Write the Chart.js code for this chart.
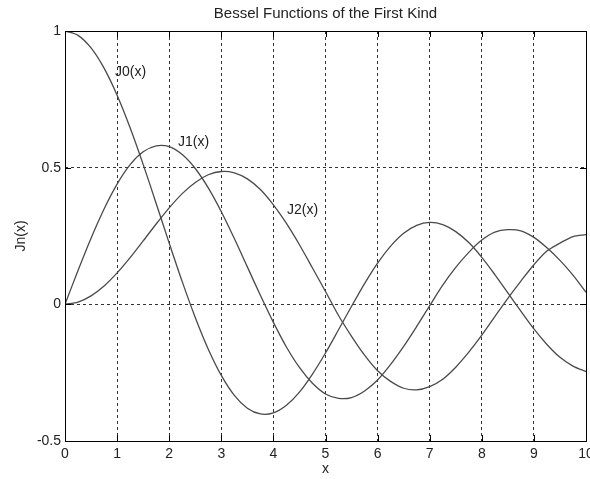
<!DOCTYPE html>
<html>
<head>
<meta charset="utf-8">
<script src="https://cdn.jsdelivr.net/npm/chart.js@4"></script>
<style>
  html, body { margin: 0; padding: 0; background: #fff; }
  #wrap { width: 590px; height: 479px; }
</style>
</head>
<body>
<div id="wrap"><canvas id="besselChart" width="590" height="479"></canvas></div>
<script>
// x samples (step 0.25) and values
const xs = [0, 0.25, 0.5, 0.75, 1, 1.25, 1.5, 1.75, 2, 2.25, 2.5, 2.75, 3, 3.25, 3.5, 3.75,
    4, 4.25, 4.5, 4.75, 5, 5.25, 5.5, 5.75, 6, 6.25, 6.5, 6.75, 7, 7.25, 7.5, 7.75,
    8, 8.25, 8.5, 8.75, 9, 9.25, 9.5, 9.75, 10];

const j0 = [1, 0.984, 0.938, 0.864, 0.765, 0.646, 0.512, 0.369, 0.224, 0.083, -0.048, -0.164,
    -0.260, -0.333, -0.380, -0.401, -0.397, -0.369, -0.321, -0.255, -0.178, -0.093, -0.007, 0.076,
    0.151, 0.213, 0.260, 0.289, 0.300, 0.292, 0.266, 0.226, 0.172, 0.109, 0.042, -0.025,
    -0.090, -0.147, -0.194, -0.226, -0.246];

const j1 = [0, 0.124, 0.242, 0.349, 0.440, 0.511, 0.558, 0.580, 0.577, 0.548, 0.497, 0.426,
    0.339, 0.241, 0.137, 0.033, -0.066, -0.156, -0.231, -0.289, -0.328, -0.344, -0.341, -0.317,
    -0.277, -0.220, -0.154, -0.081, -0.005, 0.070, 0.135, 0.190, 0.235, 0.264, 0.273, 0.269,
    0.245, 0.207, 0.161, 0.107, 0.044];

const j2 = [0, 0.008, 0.031, 0.067, 0.115, 0.171, 0.232, 0.294, 0.353, 0.405, 0.446, 0.474,
    0.486, 0.481, 0.459, 0.420, 0.364, 0.296, 0.218, 0.133, 0.047, -0.041, -0.117, -0.186,
    -0.243, -0.282, -0.307, -0.313, -0.301, -0.274, -0.230, -0.175, -0.113, -0.045, 0.022, 0.085,
    0.145, 0.195, 0.224, 0.248, 0.255];

const seriesNames = ['J0(x)', 'J1(x)', 'J2(x)'];
// where each curve's label sits, in data units (left edge, middle)
const labelX = [0.96, 2.17, 4.26];
const labelY = [0.85, 0.593, 0.344];

const xTicks = [0, 1, 2, 3, 4, 5, 6, 7, 8, 9, 10];
const yTicks = [-0.5, 0, 0.5, 1];

const FONT = 'Liberation Sans, Arial, Helvetica, sans-serif';
const INK = '#222';
const LINE = '#4a4a4a';

function toPoints(ys) {
    return xs.map((x, i) => ({ x: x, y: ys[i] }));
}

// frame, inward tick marks and curve labels, MATLAB style
const framePlugin = {
    id: 'frame',
    afterDatasetsDraw(chart) {
        const c = chart.ctx;
        const a = chart.chartArea;
        const sx = chart.scales.x;
        const sy = chart.scales.y;
        c.save();
        c.strokeStyle = '#000';
        c.lineWidth = 1;
        c.setLineDash([]);
        c.strokeRect(Math.round(a.left) + 0.5, Math.round(a.top) + 0.5,
            Math.round(a.right - a.left), Math.round(a.bottom - a.top));

        c.beginPath();
        xTicks.forEach(v => {
            const px = Math.round(sx.getPixelForValue(v)) + 0.5;
            c.moveTo(px, a.bottom); c.lineTo(px, a.bottom - 6);
            c.moveTo(px, a.top); c.lineTo(px, a.top + 6);
        });
        yTicks.forEach(v => {
            const py = Math.round(sy.getPixelForValue(v)) + 0.5;
            c.moveTo(a.left, py); c.lineTo(a.left + 6, py);
            c.moveTo(a.right, py); c.lineTo(a.right - 6, py);
        });
        c.stroke();

        c.fillStyle = INK;
        c.font = '14px ' + FONT;
        c.textAlign = 'left';
        c.textBaseline = 'middle';
        seriesNames.forEach((name, i) => {
            c.fillText(name, sx.getPixelForValue(labelX[i]), sy.getPixelForValue(labelY[i]));
        });
        c.restore();
    }
};

const makeSet = (label, ys) => ({
    label: label,
    data: toPoints(ys),
    borderColor: LINE,
    borderWidth: 1.3,
    pointRadius: 0,
    tension: 0.3,
    fill: false,
});

const config = {
    type: 'line',
    data: {
        datasets: [
            makeSet(seriesNames[0], j0),
            makeSet(seriesNames[1], j1),
            makeSet(seriesNames[2], j2),
        ]
    },
    options: {
        responsive: false,
        animation: false,
        layout: { padding: { top: 0, right: 4, bottom: 0, left: 0 } },
        plugins: {
            legend: { display: false },
            tooltip: { enabled: false },
            title: {
                display: true,
                fullSize: false,
                text: 'Bessel Functions of the First Kind',
                color: INK,
                font: { family: FONT, size: 15, weight: 'normal', lineHeight: 1.2 },
                padding: { top: 5, bottom: 8 }
            }
        },
        scales: {
            x: {
                type: 'linear',
                min: 0,
                max: 10,
                afterBuildTicks: (scale) => { scale.ticks = xTicks.map(v => ({ value: v })); },
                afterFit: (scale) => {
                    scale.height = 38;
                    scale.paddingLeft = 0;
                    scale.paddingRight = 0;
                },
                grid: {
                    color: '#333',
                    lineWidth: 1,
                    drawTicks: false,
                },
                border: { display: false, dash: [3, 3] },
                ticks: {
                    color: INK,
                    padding: 5,
                    maxRotation: 0,
                    font: { family: FONT, size: 14 },
                    callback: (v) => String(v),
                },
                title: {
                    display: true,
                    text: 'x',
                    color: INK,
                    font: { family: FONT, size: 14 },
                    padding: { top: 0, bottom: 1 }
                }
            },
            y: {
                type: 'linear',
                min: -0.5,
                max: 1,
                afterBuildTicks: (scale) => { scale.ticks = yTicks.map(v => ({ value: v })); },
                afterFit: (scale) => {
                    scale.width = 65;
                    scale.paddingTop = 0;
                    scale.paddingBottom = 0;
                },
                grid: {
                    color: '#333',
                    lineWidth: 1,
                    drawTicks: false,
                },
                border: { display: false, dash: [3, 3] },
                ticks: {
                    color: INK,
                    padding: 4,
                    font: { family: FONT, size: 14 },
                    callback: (v) => String(v),
                },
                title: {
                    display: true,
                    text: 'Jn(x)',
                    color: INK,
                    font: { family: FONT, size: 14 },
                    padding: { top: 13, bottom: 0 }
                }
            }
        }
    },
    plugins: [framePlugin]
};

const ctx = document.getElementById('besselChart').getContext('2d');
const besselChart = new Chart(ctx, config);
</script>
</body>
</html>
